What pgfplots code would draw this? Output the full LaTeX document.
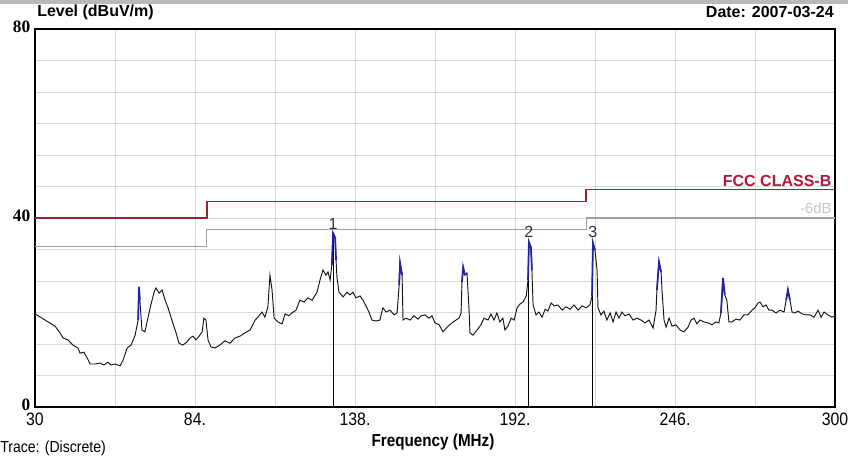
\documentclass[border=0pt]{standalone}
\usepackage{pgfplots}
\pgfplotsset{compat=1.18}
\usepackage{fontspec}
\setmainfont{Liberation Sans}
\newfontfamily\narrowfont[FakeStretch=0.88]{Liberation Sans}
\newfontfamily\serifnum{Liberation Serif}
\definecolor{limitred}{RGB}{150,35,55}
\definecolor{fcctext}{RGB}{175,25,60}
\definecolor{tracecol}{RGB}{20,20,20}
\definecolor{peakblue}{RGB}{35,35,165}

\begin{document}
\begin{tikzpicture}
% 1px = 0.75pt, page 848x456 px
\path[use as bounding box,fill=white] (0,0) rectangle (636pt,342pt);
\fill[gray!55] (0,339pt) rectangle (636pt,342pt);

\begin{axis}[
  at={(26.25pt,36.75pt)}, anchor=south west,
  scale only axis,
  width=600pt, height=283.5pt,
  xmin=30, xmax=300, ymin=0, ymax=80,
  xtick={30,84,138,192,246,300},
  xticklabels={30,84.,138.,192.,246.,300},
  minor xtick={57,111,165,219,273},
  ytick={0,40,80},
  yticklabels={0,40,80},
  minor ytick={6.667,13.333,20,26.667,33.333,46.667,53.333,60,66.667,73.333},
  grid=both,
  major grid style={gray!30, line width=0.6pt},
  minor grid style={gray!30, line width=0.6pt},
  major tick length=0pt, minor tick length=0pt,
  axis line style={black, line width=0.9pt},
  x tick label style={font=\narrowfont\fontsize{13.5}{13.5}\selectfont, yshift=-1pt},
  y tick label style={font=\serifnum\bfseries\fontsize{13}{13}\selectfont, yshift=2pt},
]
% limit lines
\addplot[limitred, line width=1pt] coordinates {(30,40)(88,40)(88,43.5)(216,43.5)(216,46)(300,46)};
\addplot[gray!75, line width=0.9pt] coordinates {(30,34)(88,34)(88,37.5)(216,37.5)(216,40)(300,40)};

% marker lines
\addplot[black, line width=0.8pt] coordinates {(130.6,0)(130.6,36.8)};
\addplot[black, line width=0.8pt] coordinates {(196.7,0)(196.7,34.9)};
\addplot[black, line width=0.8pt] coordinates {(218.3,0)(218.3,34.7)};

% measured trace
\addplot[tracecol, line width=0.7pt] coordinates {
(30,19.7)(32.4,18.8)(34.4,18.0)(36.8,17.1)(38.4,15.7)(39.5,14.6)(41.1,14.2)(42.8,13.1)
(44.5,12.5)(45.2,11.4)(46.5,11.6)(47.6,10.4)(48.6,9.1)(50.3,9.1)(51.9,9.3)(53.3,8.9)
(54.6,9.5)(55.6,8.9)(57.0,9.1)(58.7,8.7)(59.7,9.9)(61.1,12.5)(62.4,13.1)(63.8,15.2)
(64.8,18.4)(65.1,25.4)(65.4,22.6)(66.1,16.3)(67.1,15.9)(68.1,18.8)(69.1,21.6)(70.2,24.3)
(70.8,25.2)(71.9,24.1)(72.9,24.8)(73.9,22.6)(74.9,21.0)(76.2,18.4)(77.6,15.7)(78.6,13.5)
(79.9,13.1)(81.3,13.8)(82.3,14.6)(83.3,15.0)(84.3,14.2)(85.4,15.0)(86.4,15.9)(87.0,18.8)
(87.7,18.4)(88.4,14.2)(89.4,12.7)(90.8,12.5)(92.4,13.1)(94.1,14.0)(95.8,13.5)(97.5,14.6)
(99.2,15.0)(100.9,15.7)(102.6,16.3)(104.3,18.4)(105.6,19.3)(106.6,20.1)(107.6,19.0)(108.6,21.2)
(109.3,27.9)(110.0,24.8)(110.7,18.8)(112.0,18.0)(113.4,17.6)(114.4,19.7)(115.7,19.3)(116.7,19.9)
(118.1,20.5)(119.4,22.6)(120.8,22.2)(122.1,23.1)(123.5,22.6)(125.2,24.3)(126.2,26.9)(127.2,29.0)
(128.2,27.9)(128.9,28.6)(129.6,26.9)(130.2,30.1)(130.6,36.8)(131.3,35.8)(131.6,31.1)(131.9,27.5)
(132.6,24.3)(134.0,23.3)(135.3,24.3)(136.3,23.7)(137.3,24.3)(138.3,23.1)(139.7,23.5)(140.7,22.6)
(141.7,21.4)(142.7,20.1)(143.7,18.4)(145.1,18.2)(146.4,18.4)(147.4,21.0)(148.5,20.1)(149.8,20.5)
(151.2,19.5)(152.2,19.9)(152.9,25.8)(153.2,30.5)(153.9,27.9)(154.2,18.4)(155.2,18.8)(156.6,18.4)
(157.9,19.3)(159.3,18.6)(160.3,19.3)(161.6,19.5)(163.0,18.8)(164.0,19.3)(165.0,17.8)(166.4,17.4)
(167.7,15.9)(169.1,16.9)(170.7,17.8)(172.1,18.4)(173.1,18.8)(173.8,19.9)(174.1,26.5)(174.5,29.6)
(175.1,27.9)(175.8,28.4)(176.5,20.5)(176.8,15.7)(177.8,15.2)(179.2,16.3)(180.5,17.4)(181.5,18.8)
(182.9,18.4)(183.9,19.7)(184.9,18.4)(185.9,19.9)(186.9,18.0)(187.9,18.8)(188.6,16.3)(189.6,17.1)
(190.7,18.8)(191.7,18.4)(192.7,21.0)(193.7,21.8)(194.7,22.2)(195.8,23.5)(196.4,26.9)(196.7,34.9)
(197.4,33.7)(197.7,29.0)(198.1,21.6)(199.1,19.5)(200.1,20.1)(201.1,19.0)(202.2,20.7)(203.1,20.3)
(204.2,22.0)(205.2,21.4)(206.5,21.6)(207.9,20.5)(209.2,21.2)(210.6,20.7)(211.9,21.6)(213.3,20.5)
(214.6,21.4)(216.0,21.0)(217.3,21.6)(218.0,23.5)(218.3,34.7)(219.0,33.2)(219.7,29.0)(220.0,21.0)
(221.0,19.5)(222.0,20.3)(223.0,18.4)(224.1,19.9)(225.1,18.0)(226.1,20.1)(227.1,18.8)(228.1,20.1)
(229.1,19.3)(230.5,19.7)(231.8,18.4)(233.2,18.8)(234.5,18.4)(235.9,17.8)(237.2,18.4)(238.6,16.7)
(239.6,20.5)(239.9,24.8)(240.6,30.7)(241.3,28.6)(241.6,24.8)(242.3,18.4)(243.0,16.9)(244.0,18.8)
(245.0,17.1)(246.3,17.4)(247.7,16.3)(249.0,15.9)(250.4,16.9)(251.4,18.4)(252.4,18.8)(253.4,17.6)
(254.4,18.4)(255.8,18.0)(257.1,17.8)(258.5,17.4)(259.8,18.0)(260.8,17.8)(261.5,19.9)(262.2,27.3)
(262.8,23.7)(263.5,22.6)(264.2,18.0)(265.2,18.0)(266.6,18.6)(267.9,18.4)(269.3,19.5)(270.6,19.5)
(272.0,20.5)(273.0,21.0)(274.0,22.0)(274.7,22.2)(275.7,21.2)(276.7,21.6)(277.7,20.5)(278.7,20.5)
(280.1,19.9)(281.4,20.5)(282.8,20.1)(283.5,22.6)(284.1,24.8)(284.8,22.6)(285.5,20.1)(286.5,19.9)
(287.5,20.3)(288.9,19.7)(290.2,19.5)(291.6,19.5)(292.9,19.0)(294.3,20.5)(295.3,19.0)(296.3,20.1)
(297.6,19.5)(299.0,19.0)(300,19.3)
};

% discrete peaks (blue)
\addplot[peakblue, line width=1.3pt] coordinates {(64.8,18.4)(65.1,25.4)(65.4,22.6)};
\addplot[peakblue, line width=1.3pt] coordinates {(130.2,30.1)(130.6,36.8)(131.3,35.8)(131.6,31.1)};
\addplot[peakblue, line width=1.3pt] coordinates {(152.9,25.8)(153.2,30.5)(153.9,27.9)};
\addplot[peakblue, line width=1.3pt] coordinates {(174.1,26.5)(174.5,29.6)(175.1,27.9)};
\addplot[peakblue, line width=1.3pt] coordinates {(196.4,26.9)(196.7,34.9)(197.4,33.7)(197.7,29.0)};
\addplot[peakblue, line width=1.3pt] coordinates {(218.0,23.5)(218.3,34.7)(219.0,33.2)};
\addplot[peakblue, line width=1.3pt] coordinates {(239.9,24.8)(240.6,30.7)(241.3,28.6)};
\addplot[peakblue, line width=1.3pt] coordinates {(261.5,19.9)(262.2,27.3)(262.8,23.7)};
\addplot[peakblue, line width=1.3pt] coordinates {(283.5,22.6)(284.1,24.8)(284.8,22.6)};

% marker numbers
\node[anchor=south, font=\fontsize{12}{12}\selectfont, text=black!80, inner sep=1pt] at (axis cs:130.6,37.3) {1};
\node[anchor=south, font=\fontsize{12}{12}\selectfont, text=black!80, inner sep=1pt] at (axis cs:196.7,35.6) {2};
\node[anchor=south, font=\fontsize{12}{12}\selectfont, text=black!80, inner sep=1pt] at (axis cs:218.3,35.4) {3};

% limit labels
\node[anchor=south east, font=\bfseries\fontsize{12}{12}\selectfont, text=fcctext, inner sep=1pt] at (axis cs:299.3,46.4) {FCC CLASS-B};
\node[anchor=south east, font=\fontsize{11}{11}\selectfont, text=gray!45, inner sep=1pt] at (axis cs:299.3,40.6) {-6dB};
\end{axis}

\node[anchor=west, font=\bfseries\fontsize{12}{12}\selectfont, inner sep=0pt] at (27.75pt,333pt) {Level (dBuV/m)};
\node[anchor=east, font=\bfseries\fontsize{12}{12}\selectfont, inner sep=0pt] at (625.5pt,333pt) {Date: 2007-03-24};
\node[font=\narrowfont\bfseries\fontsize{13}{13}\selectfont, inner sep=0pt] at (324.75pt,10.5pt) {Frequency (MHz)};
\node[anchor=west, font=\narrowfont\fontsize{12}{12}\selectfont, inner sep=0pt] at (0pt,6pt) {Trace: (Discrete)};
\end{tikzpicture}
\end{document}
